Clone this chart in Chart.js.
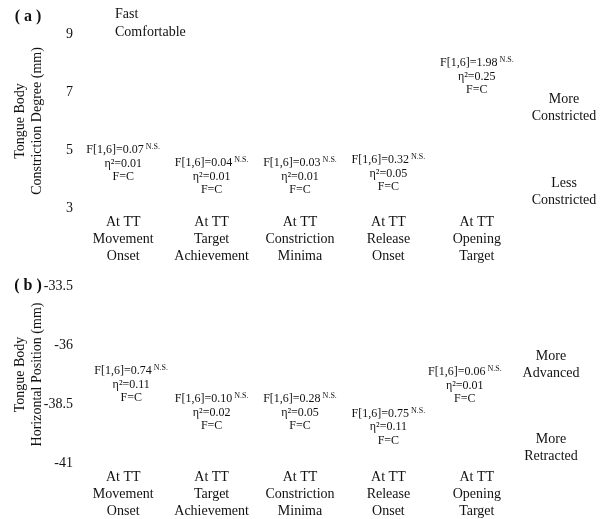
<!DOCTYPE html>
<html>
<head>
<meta charset="utf-8">
<script src="https://cdn.jsdelivr.net/npm/chart.js@4.4.1/dist/chart.umd.min.js"></script>
<style>
  body { margin: 0; background: #fff; }
  #wrap { position: relative; width: 608px; height: 519px; }
  .panel { position: absolute; left: 0; width: 608px; }
</style>
</head>
<body>
<div id="wrap">
  <div class="panel" style="top:0;height:268px"><canvas id="chartA"></canvas></div>
  <div class="panel" style="top:268px;height:251px"><canvas id="chartB"></canvas></div>
</div>
<script>
// categories (x axis)
var categories = [
  ["At TT", "Movement", "Onset"],
  ["At TT", "Target", "Achievement"],
  ["At TT", "Constriction", "Minima"],
  ["At TT", "Release", "Onset"],
  ["At TT", "Opening", "Target"]
];
var seriesNames = ["Fast", "Comfortable"];

// panel (a) - constriction degree
var ticksA = [3, 5, 7, 9];
var noteLevelA = [5.0, 4.55, 4.55, 4.66, 8.0];   // height of each stats note
var fA = ["0.07", "0.04", "0.03", "0.32", "1.98"];
var etaA = ["0.01", "0.01", "0.01", "0.05", "0.25"];

// panel (b) - horizontal position
var ticksB = [-41, -38.5, -36, -33.5];
var noteLevelB = [-37.1, -38.29, -38.29, -38.9, -37.14];
var fB = ["0.74", "0.10", "0.28", "0.75", "0.06"];
var etaB = ["0.11", "0.02", "0.05", "0.11", "0.01"];

Chart.defaults.font.family = "'Liberation Serif', 'Times New Roman', serif";
Chart.defaults.font.size = 14;
Chart.defaults.color = "#111";

// Draw stats notes, side labels, panel tag and legend text
var notesPlugin = {
  id: "notes",
  afterDraw: function (chart, args, opts) {
    var ctx = chart.ctx;
    var meta = chart.getDatasetMeta(0);
    var area = chart.chartArea;
    ctx.save();
    ctx.fillStyle = "#111";
    ctx.textBaseline = "middle";

    meta.data.forEach(function (pt, i) {
      var x = pt.x + (opts.shift ? opts.shift[i] : 0), y = pt.y;
      var main = "F[1,6]=" + opts.f[i];
      ctx.font = "12px 'Liberation Serif', serif";
      var mw = ctx.measureText(main).width;
      ctx.font = "8px 'Liberation Serif', serif";
      var sw = ctx.measureText("N.S.").width;
      var sx = x - (mw + 2 + sw) / 2;
      ctx.font = "12px 'Liberation Serif', serif";
      ctx.textAlign = "left";
      ctx.fillText(main, sx, y);
      ctx.font = "8px 'Liberation Serif', serif";
      ctx.fillText("N.S.", sx + mw + 2, y - 3);
      ctx.font = "12px 'Liberation Serif', serif";
      ctx.textAlign = "center";
      ctx.fillText("\u03b7\u00b2=" + opts.eta[i], x, y + 13.5);
      ctx.fillText("F=C", x, y + 27);
    });

    ctx.font = "14px 'Liberation Serif', serif";
    ctx.textAlign = "center";
    opts.side.forEach(function (s) {
      ctx.fillText(s.lines[0], area.right + s.dx, s.y - 8.4);
      ctx.fillText(s.lines[1], area.right + s.dx, s.y + 8.4);
    });

    ctx.font = "bold 16px 'Liberation Serif', serif";
    ctx.fillText(opts.tag, 28, opts.tagY);

    if (opts.legend) {
      ctx.font = "14px 'Liberation Serif', serif";
      ctx.textAlign = "left";
      seriesNames.forEach(function (name, i) {
        ctx.fillText(name, 115, 14 + i * 18);
      });
    }
    ctx.restore();
  }
};

function makeChart(id, levels, ticks, title, notes, pad, xHeight) {
  return new Chart(document.getElementById(id), {
    type: "line",
    data: {
      labels: categories,
      datasets: [{
        data: levels,
        showLine: false,
        pointRadius: 0,
        pointHoverRadius: 0
      }]
    },
    options: {
      responsive: true,
      maintainAspectRatio: false,
      animation: false,
      events: [],
      layout: { padding: pad },
      plugins: {
        legend: { display: false },
        tooltip: { enabled: false },
        notes: notes
      },
      scales: {
        x: {
          offset: true,
          grid: { display: false, drawTicks: false },
          border: { display: false },
          ticks: { padding: 6, maxRotation: 0, font: { size: 14, lineHeight: 1.2 } },
          afterFit: function (s) { s.height = xHeight; }
        },
        y: {
          min: ticks[0],
          max: ticks[ticks.length - 1],
          grid: { display: false, drawTicks: false },
          border: { display: false },
          afterBuildTicks: function (s) {
            s.ticks = ticks.map(function (v) { return { value: v }; });
          },
          ticks: {
            padding: 6,
            font: { size: 14 },
            callback: function (v) { return String(v); }
          },
          title: {
            display: true,
            text: title,
            padding: 0,
            font: { size: 14, lineHeight: 1.2 }
          },
          afterFit: function (s) { s.width = 67; }
        }
      }
    },
    plugins: [notesPlugin]
  });
}

makeChart("chartA", noteLevelA, ticksA,
  ["Tongue Body", "Constriction Degree (mm)"],
  {
    f: fA, eta: etaA, tag: "( a )", tagY: 17, legend: true,
    side: [
      { lines: ["More", "Constricted"], dx: 43, y: 108 },
      { lines: ["Less", "Constricted"], dx: 43, y: 191.5 }
    ]
  },
  { top: 34, left: 12, right: 87, bottom: 0 }, 60);

makeChart("chartB", noteLevelB, ticksB,
  ["Tongue Body", "Horizontal Position (mm)"],
  {
    f: fB, eta: etaB, tag: "( b )", tagY: 18, legend: false,
    shift: [8, 0, 0, 0, -12],
    side: [
      { lines: ["More", "Advanced"], dx: 30, y: 97 },
      { lines: ["More", "Retracted"], dx: 30, y: 179.5 }
    ]
  },
  { top: 18, left: 12, right: 87, bottom: 0 }, 56);
</script>
</body>
</html>
